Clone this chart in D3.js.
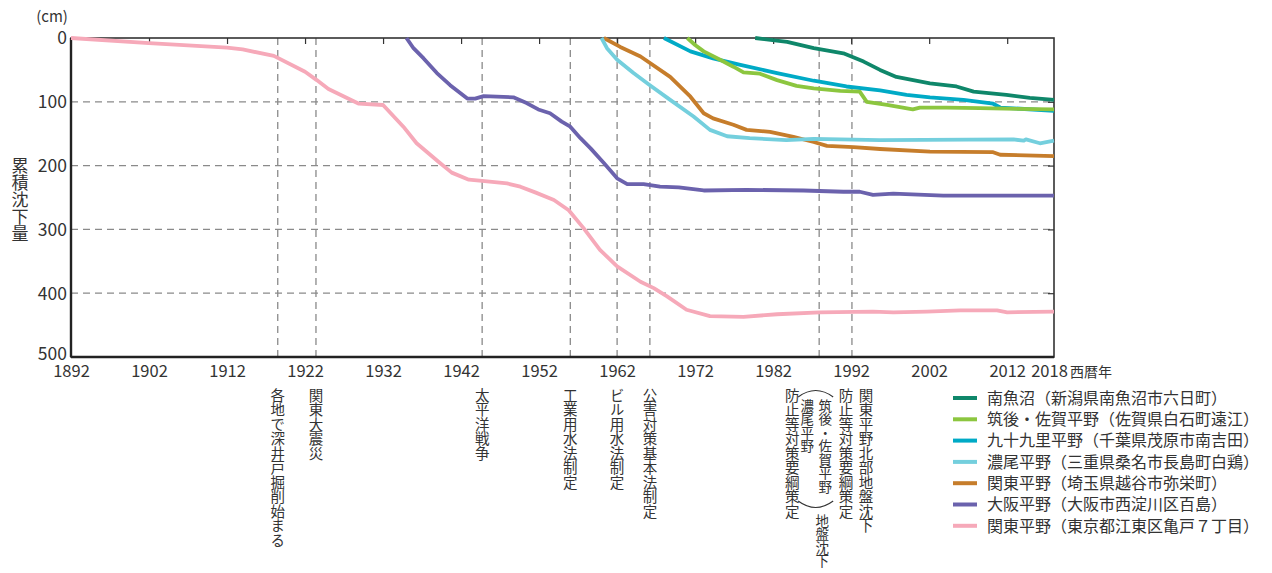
<!DOCTYPE html>
<html>
<head>
<meta charset="utf-8">
<script src="https://cdn.jsdelivr.net/npm/d3@7"></script>
<style>
  body { margin: 0; background: #fff; }
  svg text { font-family: "Noto Sans CJK JP", "Noto Sans", sans-serif; fill: #333; }
  .vtext { writing-mode: vertical-rl; }
</style>
</head>
<body>
<div id="chart"></div>
<script>

/* DATA (year, cumulative subsidence cm) */
const minamiuonuma = [[1979.7,0],[1983.8,6],[1987.2,16],[1991,24],[1993.6,37],[1995.7,50],[1997.8,61],[2002.1,71],[2005.5,76],[2007.7,84],[2011.9,89],[2014.9,94],[2018,97]];
const chikugo = [[1971,0],[1972,11],[1973.1,21],[1975.2,34],[1976.9,45],[1978.2,54],[1980.3,56],[1982.5,66],[1985,75],[1987.2,79],[1990.6,83],[1993.1,84],[1994,100],[1996.6,105],[1999.9,112],[2000.8,109],[2004.2,109],[2008.5,110],[2018,112]];
const kujukuri = [[1968,0],[1971.4,21],[1974.3,32],[1977.8,42],[1982.5,55],[1987.2,67],[1991.4,76],[1995.7,82],[1999.1,89],[2002.1,93],[2006.4,97],[2010.2,103],[2011.1,109],[2018,114]];
const nobi = [[1960,0],[1960.7,16],[1962,34],[1964.1,55],[1966.2,74],[1968.8,97],[1971.8,123],[1973.9,144],[1976.1,154],[1979,157],[1983.7,160],[1987.2,158],[1995.7,160],[2012.8,159],[2014.1,161],[2014.4,159],[2016.2,165],[2018,161]];
const koshigaya = [[1960.3,0],[1962.4,14],[1965,29],[1968.8,61],[1971.4,92],[1973.1,118],[1974.3,126],[1976.9,136],[1978.6,144],[1981.6,147],[1984.6,155],[1987.2,163],[1988.9,169],[1992.3,171],[1995.7,174],[2002.1,178],[2010.2,179],[2011.1,183],[2018,185]];
const osaka = [[1935,0],[1935.9,16],[1937.2,32],[1938.9,55],[1940.6,74],[1942.8,95],[1943.8,95],[1944.9,91],[1948.7,93],[1950.4,102],[1951.9,112],[1953.4,118],[1954.9,131],[1956,139],[1957.3,157],[1958.6,173],[1960.3,196],[1962,220],[1963.3,229],[1965.4,229],[1967.5,233],[1969.9,234],[1973.1,239],[1978.6,238],[1985.9,239],[1991,241],[1993.1,241],[1994.8,246],[1997.4,244],[2003.8,247],[2018,247]];
const kameido = [[1892,0],[1902,8],[1912,15],[1914,18],[1918,28],[1922,53],[1923.5,66],[1925,80],[1928.9,103],[1932,105],[1934.6,139],[1936.3,165],[1939.1,194],[1940.8,211],[1943,222],[1944.7,224],[1947.9,228],[1949.6,233],[1951.5,242],[1953.9,254],[1955.8,270],[1957.7,298],[1959.8,332],[1962,358],[1965,382],[1966.7,392],[1968.4,405],[1970.9,426],[1973.9,436],[1978.2,437],[1982.5,433],[1988,430],[1994.8,429],[1997.4,430],[2001.7,429],[2006,427],[2010.7,427],[2012,430],[2018,429]];

const seriesNames = ["南魚沼（新潟県南魚沼市六日町）","筑後・佐賀平野（佐賀県白石町遠江）","九十九里平野（千葉県茂原市南吉田）","濃尾平野（三重県桑名市長島町白鶏）","関東平野（埼玉県越谷市弥栄町）","大阪平野（大阪市西淀川区百島）","関東平野（東京都江東区亀戸７丁目）"];
const seriesData = [minamiuonuma, chikugo, kujukuri, nobi, koshigaya, osaka, kameido];
const colors = ["#0f876a","#8cc63f","#00aac6","#74cfdd","#c67d2b","#6b62ad","#f6a9b9"];

const xTicks = [1892,1902,1912,1922,1932,1942,1952,1962,1972,1982,1992,2002,2012,2018];
const yTicks = [0,100,200,300,400,500];

/* events: position (year) and text columns (right to left) */
const events = [
    {year: 1918.5, cols: ["各地で深井戸掘削始まる"]},
    {year: 1923.4, cols: ["関東大震災"]},
    {year: 1944.7, cols: ["太平洋戦争"]},
    {year: 1956, cols: ["工業用水法制定"]},
    {year: 1962, cols: ["ビル用水法制定"]},
    {year: 1966.2, cols: ["公害対策基本法制定"]},
    {year: 1987.9, cols: ["筑後・佐賀平野", "濃尾平野", "防止等対策要綱策定"], tail: "地盤沈下"},
    {year: 1992.1, cols: ["関東平野北部地盤沈下", "防止等対策要綱策定"]}
];

const width = 1272;
const height = 573;
const margin = {top: 38, left: 71, right: 218, bottom: 216};

const svg = d3.select("#chart")
    .append("svg")
    .attr("width", width)
    .attr("height", height);

const xScale = d3.scaleLinear()
    .domain([1892, 2018])
    .range([margin.left, width - margin.right]);

const yScale = d3.scaleLinear()
    .domain([0, 500])
    .range([margin.top, height - margin.bottom]);

const x0 = xScale.range()[0], x1 = xScale.range()[1];
const y0 = yScale.range()[0], y1 = yScale.range()[1];

/* GRID */
svg.append("g")
    .selectAll("line")
    .data([100, 200, 300, 400])
    .enter()
    .append("line")
        .attr("x1", x0)
        .attr("x2", x1)
        .attr("y1", d => yScale(d))
        .attr("y2", d => yScale(d))
        .attr("stroke", "#8a8a8a")
        .attr("stroke-width", 1.3)
        .attr("stroke-dasharray", "7,5");

svg.append("g")
    .selectAll("line")
    .data(events)
    .enter()
    .append("line")
        .attr("x1", d => xScale(d.year))
        .attr("x2", d => xScale(d.year))
        .attr("y1", y0)
        .attr("y2", y1)
        .attr("stroke", "#8a8a8a")
        .attr("stroke-width", 1.3)
        .attr("stroke-dasharray", "7,5");

/* AXES */
// top: ticks pointing down, no labels
svg.append("g")
    .attr("transform", `translate(0,${y0})`)
    .call(d3.axisBottom(xScale).tickValues(xTicks.slice(1, -1)).tickSize(6).tickFormat("").tickSizeOuter(0))
    .call(g => g.select(".domain").remove())
    .selectAll("line").attr("stroke", "#333").attr("stroke-width", 1.2);

// right: ticks pointing in
svg.append("g")
    .attr("transform", `translate(${x1},0)`)
    .call(d3.axisLeft(yScale).tickValues([100,200,300,400]).tickSize(6).tickFormat("").tickSizeOuter(0))
    .call(g => g.select(".domain").remove())
    .selectAll("line").attr("stroke", "#333").attr("stroke-width", 1.2);

// frame
svg.append("rect")
    .attr("x", x0)
    .attr("y", y0)
    .attr("width", x1 - x0)
    .attr("height", y1 - y0)
    .attr("fill", "none")
    .attr("stroke", "#333")
    .attr("stroke-width", 1.6);

svg.append("line")
    .attr("x1", x0).attr("x2", x1)
    .attr("y1", y1).attr("y2", y1)
    .attr("stroke", "#222").attr("stroke-width", 2.6);
svg.append("line")
    .attr("x1", x0).attr("x2", x0)
    .attr("y1", y0).attr("y2", y1)
    .attr("stroke", "#222").attr("stroke-width", 2.4);

// y labels
svg.append("g")
    .attr("transform", `translate(${x0},0)`)
    .call(d3.axisLeft(yScale).tickValues(yTicks).tickSize(0).tickPadding(4))
    .call(g => g.select(".domain").remove())
    .selectAll("text")
        .attr("font-size", 17.5)
        .attr("font-family", "'Noto Sans CJK JP'")
        .attr("fill", "#333")
        .attr("dy", d => d === 500 ? "0.12em" : "0.34em");

// x labels
svg.append("g")
    .attr("transform", `translate(0,${y1})`)
    .call(d3.axisBottom(xScale).tickValues(xTicks).tickSize(0).tickPadding(8).tickFormat(d3.format("d")))
    .call(g => g.select(".domain").remove())
    .selectAll("text")
        .attr("font-size", 16.5)
        .attr("font-family", "'Noto Sans CJK JP'")
        .attr("fill", "#333")
        .attr("dx", d => d === 2018 ? -5 : 0);

svg.append("text")
    .attr("x", x1 + 16)
    .attr("y", y1 + 20)
    .attr("font-size", 14)
    .text("西暦年");

svg.append("text")
    .attr("x", 52)
    .attr("y", 22)
    .attr("text-anchor", "middle")
    .attr("font-size", 15)
    .text("(cm)");

svg.append("text")
    .attr("class", "vtext")
    .attr("x", 20)
    .attr("y", 157)
    .attr("font-size", 17)
    .text("累積沈下量");

/* LINES */
const line = d3.line()
    .x(d => xScale(d[0]))
    .y(d => yScale(d[1]));

// draw the oldest series first so the shorter recent ones sit on top
svg.append("g")
    .selectAll("path")
    .data(seriesData.map((d, i) => ({values: d, color: colors[i]})).reverse())
    .enter()
    .append("path")
        .attr("d", d => line(d.values))
        .attr("fill", "none")
        .attr("stroke", d => d.color)
        .attr("stroke-width", 3.8)
        .attr("stroke-linejoin", "round");

/* EVENT LABELS (vertical, columns right to left) */
const fs = 14.5;
events.forEach(function(ev) {
    const cx = xScale(ev.year);
    const n = ev.cols.length;
    ev.cols.forEach(function(txt, i) {
        let x = cx;
        let y = 388;
        let size = fs;
        if (n === 2) {
            x = [cx + 14, cx - 6][i];
        }
        if (n === 3) {
            // 筑後・佐賀平野 / 濃尾平野 share one bracket, then 地盤沈下
            x = [cx + 6, cx - 12, cx - 27][i];
            y = [399, 399, 388][i];
            size = i < 2 ? 13.5 : fs;
        }
        svg.append("text")
            .attr("class", "vtext")
            .attr("x", x)
            .attr("y", y)
            .attr("font-size", size)
            .text(txt);
    });
    if (ev.tail) {
        // bracket arcs around the two short columns
        const bl = cx - 21, br = cx + 14;
        svg.append("path")
            .attr("d", `M${bl},397 Q${(bl + br) / 2},384 ${br},397`)
            .attr("fill", "none").attr("stroke", "#333").attr("stroke-width", 1.1);
        svg.append("path")
            .attr("d", `M${bl},501 Q${(bl + br) / 2},514 ${br},501`)
            .attr("fill", "none").attr("stroke", "#333").attr("stroke-width", 1.1);
        svg.append("text")
            .attr("class", "vtext")
            .attr("x", cx + 3)
            .attr("y", 514)
            .attr("font-size", 13.5)
            .text(ev.tail);
    }
});

/* LEGEND */
const legend = svg.append("g")
    .attr("transform", "translate(953,398)");

seriesNames.forEach(function(name, i) {
    legend.append("line")
        .attr("x1", 0)
        .attr("x2", 24)
        .attr("y1", i * 21.3)
        .attr("y2", i * 21.3)
        .attr("stroke", colors[i])
        .attr("stroke-width", 4);

    legend.append("text")
        .attr("x", 34)
        .attr("y", i * 21.3)
        .attr("dy", "0.36em")
        .attr("font-size", 16)
        .text(name);
});

</script>
</body>
</html>
